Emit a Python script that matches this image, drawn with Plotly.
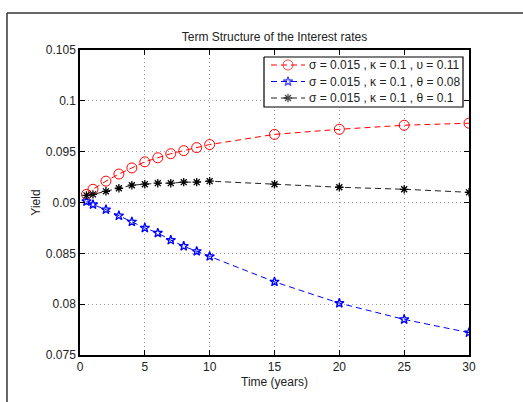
import plotly.graph_objects as go

# Maturities (years)
maturities = [0.5, 1, 2, 3, 4, 5, 6, 7, 8, 9, 10, 15, 20, 25, 30]

# Yields for theta = 0.11, 0.08 and 0.1
yield_theta_011 = [0.0908, 0.0913, 0.0921, 0.0928, 0.0934, 0.0940, 0.0944, 0.0948,
                   0.0951, 0.0954, 0.0957, 0.0967, 0.0972, 0.0976, 0.0978]
yield_theta_008 = [0.0901, 0.0898, 0.0893, 0.0887, 0.0881, 0.0875, 0.0870, 0.0863,
                   0.0857, 0.0852, 0.0847, 0.0822, 0.0801, 0.0785, 0.0772]
yield_theta_010 = [0.0907, 0.0908, 0.0911, 0.0914, 0.0917, 0.0918, 0.0919, 0.0919,
                   0.0920, 0.0920, 0.0921, 0.0918, 0.0915, 0.0913, 0.0910]

names = ["σ = 0.015 , κ = 0.1 , υ = 0.11",
         "σ = 0.015 , κ = 0.1 , θ = 0.08",
         "σ = 0.015 , κ = 0.1 , θ = 0.1"]

x_ticks = [0, 5, 10, 15, 20, 25, 30]
y_ticks = [0.075, 0.08, 0.085, 0.09, 0.095, 0.1, 0.105]
y_tick_text = ["0.075", "0.08", "0.085", "0.09", "0.095", "0.1", "0.105"]

FONT = "Liberation Sans, Arial, sans-serif"
DASH = "6px,4px"

styles = [
    dict(line=dict(color="#ff0000", width=1, dash=DASH),
         symbol="circle-open", size=10, mcolor="#ff0000", mwidth=1),
    dict(line=dict(color="#0000ff", width=1, dash=DASH),
         symbol="star-open", size=7, mcolor="#0000ff", mwidth=1.3),
    dict(line=dict(color="#222222", width=1, dash=DASH),
         symbol="asterisk-open", size=7, mcolor="#000000", mwidth=1.3),
]
series = [yield_theta_011, yield_theta_008, yield_theta_010]

fig = go.Figure()
for name, ys, st in zip(names, series, styles):
    fig.add_trace(go.Scatter(
        x=maturities, y=ys, name=name, mode="lines+markers", showlegend=False,
        line=st["line"],
        marker=dict(symbol=st["symbol"], size=st["size"], color=st["mcolor"],
                    line=dict(width=st["mwidth"], color=st["mcolor"])),
    ))

# --- Legend, drawn on a pixel-unit overlay axis spanning the plot area ---
PLOT_L, PLOT_R, PLOT_T, PLOT_B = 80, 469, 50, 355
BOX_L, BOX_R, BOX_T, BOX_B = 264, 463, 57, 107
ROW_Y = [65, 81.5, 98]
SAMPLE_X0, SAMPLE_XM, SAMPLE_X1, TEXT_X = 271, 288, 305, 307

fig.add_trace(go.Scatter(
    x=[BOX_L, BOX_R, BOX_R, BOX_L, BOX_L], y=[BOX_T, BOX_T, BOX_B, BOX_B, BOX_T],
    xaxis="x2", yaxis="y2", mode="lines", fill="toself", fillcolor="white",
    line=dict(color="black", width=1.2), showlegend=False, hoverinfo="skip",
))
for name, st, ry in zip(names, styles, ROW_Y):
    fig.add_trace(go.Scatter(
        x=[SAMPLE_X0, SAMPLE_XM, SAMPLE_X1], y=[ry, ry, ry],
        xaxis="x2", yaxis="y2", mode="lines+markers", showlegend=False, hoverinfo="skip",
        line=st["line"],
        marker=dict(symbol=st["symbol"], size=[0, st["size"], 0], color=st["mcolor"],
                    line=dict(width=st["mwidth"], color=st["mcolor"])),
    ))
    fig.add_annotation(x=TEXT_X, y=ry, xref="x2", yref="y2", text=name, showarrow=False,
                       xanchor="left", yanchor="middle",
                       font=dict(family=FONT, size=12, color="#222"))

axis_common = dict(
    showline=True, linecolor="black", linewidth=1.5, mirror="ticks",
    ticks="inside", ticklen=5, tickcolor="black", tickwidth=1,
    showgrid=True, gridcolor="#9a9a9a", gridwidth=1, griddash="1px,3px",
    zeroline=False, tickfont=dict(family=FONT, size=12, color="#222"),
)

fig.update_layout(
    xaxis=dict(
        range=[0, 30], tickvals=x_ticks, ticktext=[str(t) for t in x_ticks],
        title=dict(text="Time (years)", font=dict(family=FONT, size=12, color="#222"), standoff=4),
        **axis_common,
    ),
    yaxis=dict(
        range=[0.075, 0.105], tickvals=y_ticks, ticktext=y_tick_text,
        title=dict(text="Yield", font=dict(family=FONT, size=12, color="#222"), standoff=3),
        **axis_common,
    ),
    xaxis2=dict(overlaying="x", range=[PLOT_L, PLOT_R], visible=False, fixedrange=True),
    yaxis2=dict(overlaying="y", range=[PLOT_B, PLOT_T], visible=False, fixedrange=True),
)

# Figure frame (top and left edges)
fig.add_shape(type="line", xref="paper", yref="paper", x0=-0.1877, x1=1.3, y0=1.1213, y1=1.1213,
              line=dict(color="#333", width=1.5))
fig.add_shape(type="line", xref="paper", yref="paper", x0=-0.1877, x1=-0.1877, y0=1.1213, y1=-0.3,
              line=dict(color="#333", width=1.5))

fig.update_layout(
    width=523, height=402,
    margin=dict(l=PLOT_L, r=523 - PLOT_R, t=PLOT_T, b=402 - PLOT_B),
    paper_bgcolor="white", plot_bgcolor="white",
    title=dict(text="Term Structure of the Interest rates", x=0.5, xref="paper",
               y=1 - 37 / 402, yref="container", xanchor="center", yanchor="middle",
               font=dict(family=FONT, size=12, color="#222")),
    showlegend=False,
)

fig.write_html("out.html")
